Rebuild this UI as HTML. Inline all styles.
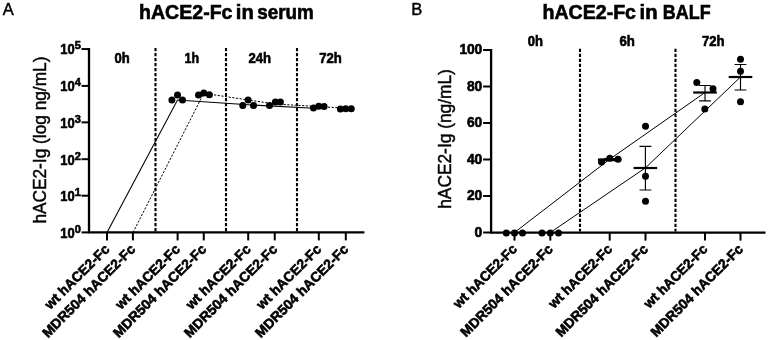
<!DOCTYPE html>
<html><head><meta charset="utf-8"><title>hACE2-Fc</title>
<style>
html,body{margin:0;padding:0;background:#fff;}
svg{display:block;}
text{font-family:"Liberation Sans",Arial,sans-serif;fill:#000;stroke:#000;stroke-width:0.45px;}
.b{font-weight:bold;stroke:#000;stroke-width:0.6px;}
</style></head><body>
<svg width="768" height="340" viewBox="0 0 768 340">
<rect width="768" height="340" fill="#fff"/>

<g id="panelA">
<text x="2.7" y="14.5" font-size="16.5">A</text>
<text class="b" x="139" y="19" font-size="20" textLength="93.5" lengthAdjust="spacingAndGlyphs">hACE2-Fc</text>
<text class="b" x="235.8" y="19" font-size="20" textLength="18" lengthAdjust="spacingAndGlyphs">in</text>
<text class="b" x="257.2" y="19" font-size="20" textLength="56.5" lengthAdjust="spacingAndGlyphs">serum</text>
<text transform="translate(45.6,223.6) rotate(-90)" font-size="19" textLength="167" lengthAdjust="spacingAndGlyphs">hACE2-Ig (log ng/mL)</text>
<path d="M89 48 V233.4 M88 232.4 H364.4" stroke="#000" stroke-width="2.3" fill="none"/>
<path d="M81.5 49.05 H89" stroke="#000" stroke-width="2"/>
<text class="b" x="60.3" y="54.349999999999994" font-size="13.8" textLength="14.4" lengthAdjust="spacingAndGlyphs">10</text>
<text class="b" x="74.8" y="49.349999999999994" font-size="11">5</text>
<path d="M81.5 85.9 H89" stroke="#000" stroke-width="2"/>
<text class="b" x="60.3" y="91.2" font-size="13.8" textLength="14.4" lengthAdjust="spacingAndGlyphs">10</text>
<text class="b" x="74.8" y="86.2" font-size="11">4</text>
<path d="M81.5 122.35 H89" stroke="#000" stroke-width="2"/>
<text class="b" x="60.3" y="127.64999999999999" font-size="13.8" textLength="14.4" lengthAdjust="spacingAndGlyphs">10</text>
<text class="b" x="74.8" y="122.64999999999999" font-size="11">3</text>
<path d="M81.5 159.2 H89" stroke="#000" stroke-width="2"/>
<text class="b" x="60.3" y="164.5" font-size="13.8" textLength="14.4" lengthAdjust="spacingAndGlyphs">10</text>
<text class="b" x="74.8" y="159.5" font-size="11">2</text>
<path d="M81.5 195.7 H89" stroke="#000" stroke-width="2"/>
<text class="b" x="60.3" y="201.0" font-size="13.8" textLength="14.4" lengthAdjust="spacingAndGlyphs">10</text>
<text class="b" x="74.8" y="196.0" font-size="11">1</text>
<path d="M81.5 232.4 H89" stroke="#000" stroke-width="2"/>
<text class="b" x="60.3" y="237.70000000000002" font-size="13.8" textLength="14.4" lengthAdjust="spacingAndGlyphs">10</text>
<text class="b" x="74.8" y="232.70000000000002" font-size="11">0</text>
<path d="M107 232.4 V240.4" stroke="#000" stroke-width="2"/>
<path d="M132.9 232.4 V240.4" stroke="#000" stroke-width="2"/>
<path d="M177.6 232.4 V240.4" stroke="#000" stroke-width="2"/>
<path d="M203.75 232.4 V240.4" stroke="#000" stroke-width="2"/>
<path d="M248.2 232.4 V240.4" stroke="#000" stroke-width="2"/>
<path d="M274.75 232.4 V240.4" stroke="#000" stroke-width="2"/>
<path d="M318.8 232.4 V240.4" stroke="#000" stroke-width="2"/>
<path d="M345.8 232.4 V240.4" stroke="#000" stroke-width="2"/>
<path d="M155.5 48 V231.4" stroke="#000" stroke-width="2.1" stroke-dasharray="3.2 1.8"/>
<path d="M226 48 V231.4" stroke="#000" stroke-width="2.1" stroke-dasharray="3.2 1.8"/>
<path d="M297 48 V231.4" stroke="#000" stroke-width="2.1" stroke-dasharray="3.2 1.8"/>
<text class="b" x="122" y="62.8" font-size="13.8" text-anchor="middle" textLength="15.2" lengthAdjust="spacingAndGlyphs">0h</text>
<text class="b" x="191.8" y="62.8" font-size="13.8" text-anchor="middle" textLength="14.5" lengthAdjust="spacingAndGlyphs">1h</text>
<text class="b" x="259.8" y="62.8" font-size="13.8" text-anchor="middle" textLength="22.6" lengthAdjust="spacingAndGlyphs">24h</text>
<text class="b" x="330.5" y="62.8" font-size="13.8" text-anchor="middle" textLength="22.6" lengthAdjust="spacingAndGlyphs">72h</text>
<path d="M107 232.5 L177.5 100 L248.1 104.8 L318.75 108.5" stroke="#000" stroke-width="1.1" fill="none"/>
<path d="M133 232.5 L203.75 93.3 L275 104 L345.75 108.2" stroke="#000" stroke-width="1" fill="none" stroke-dasharray="2.2 1.5"/>
<circle cx="171.9" cy="100" r="3.5"/><circle cx="177.5" cy="95" r="3.5"/><circle cx="182.5" cy="100" r="3.5"/><circle cx="198.5" cy="95" r="3.5"/><circle cx="203.75" cy="93.1" r="3.5"/><circle cx="209.4" cy="94.75" r="3.5"/><circle cx="242.75" cy="105.4" r="3.5"/><circle cx="248.1" cy="100" r="3.5"/><circle cx="253.5" cy="105.4" r="3.5"/><circle cx="269.5" cy="105.6" r="3.5"/><circle cx="275.4" cy="101.9" r="3.5"/><circle cx="280.4" cy="101.9" r="3.5"/><circle cx="313.5" cy="108.1" r="3.5"/><circle cx="318.75" cy="106.25" r="3.5"/><circle cx="324.1" cy="106.5" r="3.5"/><circle cx="340.4" cy="109" r="3.5"/><circle cx="345.75" cy="108.75" r="3.5"/><circle cx="351.25" cy="108.75" r="3.5"/>
<text class="b" transform="translate(110.4,250) rotate(-45)" text-anchor="end" font-size="13.8" textLength="85" lengthAdjust="spacingAndGlyphs">wt hACE2-Fc</text>
<text class="b" transform="translate(136.3,250) rotate(-45)" text-anchor="end" font-size="13.8" textLength="125" lengthAdjust="spacingAndGlyphs">MDR504 hACE2-Fc</text>
<text class="b" transform="translate(181.0,250) rotate(-45)" text-anchor="end" font-size="13.8" textLength="85" lengthAdjust="spacingAndGlyphs">wt hACE2-Fc</text>
<text class="b" transform="translate(207.15,250) rotate(-45)" text-anchor="end" font-size="13.8" textLength="125" lengthAdjust="spacingAndGlyphs">MDR504 hACE2-Fc</text>
<text class="b" transform="translate(251.6,250) rotate(-45)" text-anchor="end" font-size="13.8" textLength="85" lengthAdjust="spacingAndGlyphs">wt hACE2-Fc</text>
<text class="b" transform="translate(278.15,250) rotate(-45)" text-anchor="end" font-size="13.8" textLength="125" lengthAdjust="spacingAndGlyphs">MDR504 hACE2-Fc</text>
<text class="b" transform="translate(322.2,250) rotate(-45)" text-anchor="end" font-size="13.8" textLength="85" lengthAdjust="spacingAndGlyphs">wt hACE2-Fc</text>
<text class="b" transform="translate(349.2,250) rotate(-45)" text-anchor="end" font-size="13.8" textLength="125" lengthAdjust="spacingAndGlyphs">MDR504 hACE2-Fc</text>
</g>
<g id="panelB">
<text x="411.2" y="14.5" font-size="16.5">B</text>
<text class="b" x="542.5" y="18.8" font-size="20" textLength="93.5" lengthAdjust="spacingAndGlyphs">hACE2-Fc</text>
<text class="b" x="639.6" y="18.8" font-size="20" textLength="18" lengthAdjust="spacingAndGlyphs">in</text>
<text class="b" x="662.8" y="18.8" font-size="20" textLength="47.8" lengthAdjust="spacingAndGlyphs">BALF</text>
<text transform="translate(450.5,208.8) rotate(-90)" font-size="19" textLength="139.7" lengthAdjust="spacingAndGlyphs">hACE2-Ig (ng/mL)</text>
<path d="M491.1 49 V233.6 M490.1 232.6 H765.5" stroke="#000" stroke-width="2.3" fill="none"/>
<path d="M483.1 50 H491.1" stroke="#000" stroke-width="2"/>
<text class="b" x="482" y="54.4" font-size="13.8" text-anchor="end" letter-spacing="-0.15">100</text>
<path d="M483.1 86.5 H491.1" stroke="#000" stroke-width="2"/>
<text class="b" x="482" y="90.9" font-size="13.8" text-anchor="end" letter-spacing="-0.15">80</text>
<path d="M483.1 123 H491.1" stroke="#000" stroke-width="2"/>
<text class="b" x="482" y="127.4" font-size="13.8" text-anchor="end" letter-spacing="-0.15">60</text>
<path d="M483.1 159.5 H491.1" stroke="#000" stroke-width="2"/>
<text class="b" x="482" y="163.9" font-size="13.8" text-anchor="end" letter-spacing="-0.15">40</text>
<path d="M483.1 196 H491.1" stroke="#000" stroke-width="2"/>
<text class="b" x="482" y="200.4" font-size="13.8" text-anchor="end" letter-spacing="-0.15">20</text>
<path d="M483.1 232.5 H491.1" stroke="#000" stroke-width="2"/>
<text class="b" x="482" y="236.9" font-size="13.8" text-anchor="end" letter-spacing="-0.15">0</text>
<path d="M514.5 232.6 V240.6" stroke="#000" stroke-width="2"/>
<path d="M550.3 232.6 V240.6" stroke="#000" stroke-width="2"/>
<path d="M609.7 232.6 V240.6" stroke="#000" stroke-width="2"/>
<path d="M645.5 232.6 V240.6" stroke="#000" stroke-width="2"/>
<path d="M705 232.6 V240.6" stroke="#000" stroke-width="2"/>
<path d="M740.5 232.6 V240.6" stroke="#000" stroke-width="2"/>
<path d="M580 48.7 V231.6" stroke="#000" stroke-width="2.1" stroke-dasharray="3.2 1.8"/>
<path d="M675.5 48.7 V231.6" stroke="#000" stroke-width="2.1" stroke-dasharray="3.2 1.8"/>
<text class="b" x="535.3" y="45.8" font-size="13.8" text-anchor="middle" textLength="15.2" lengthAdjust="spacingAndGlyphs">0h</text>
<text class="b" x="627.1" y="45.8" font-size="13.8" text-anchor="middle" textLength="15.4" lengthAdjust="spacingAndGlyphs">6h</text>
<text class="b" x="713.2" y="45.8" font-size="13.8" text-anchor="middle" textLength="22.6" lengthAdjust="spacingAndGlyphs">72h</text>
<path d="M514.5 232.5 L609.7 159.2 L705 92.5" stroke="#000" stroke-width="1" fill="none"/>
<path d="M550.3 232.5 L645.5 167.8 L740.5 77" stroke="#000" stroke-width="1" fill="none"/>
<path d="M597.9000000000001 159.6 H621.5" stroke="#000" stroke-width="2.2"/><path d="M609.7 158.6 V160.6 M603.8000000000001 158.6 H615.6 M603.8000000000001 160.6 H615.6" stroke="#000" stroke-width="1.15" fill="none"/>
<path d="M633.6 168 H657.1999999999999" stroke="#000" stroke-width="2.2"/><path d="M645.4 146.3 V190 M639.5 146.3 H651.3 M639.5 190 H651.3" stroke="#000" stroke-width="1.15" fill="none"/>
<path d="M693.2 92.5 H716.8" stroke="#000" stroke-width="2.2"/><path d="M705 85.5 V100.8 M699.1 85.5 H710.9 M699.1 100.8 H710.9" stroke="#000" stroke-width="1.15" fill="none"/>
<path d="M728.7 77 H752.3" stroke="#000" stroke-width="2.2"/><path d="M740.5 64.5 V90 M734.6 64.5 H746.4 M734.6 90 H746.4" stroke="#000" stroke-width="1.15" fill="none"/>
<circle cx="506.3" cy="232.9" r="3.5"/><circle cx="514.5" cy="232.9" r="3.5"/><circle cx="522.5" cy="232.9" r="3.5"/><circle cx="542" cy="232.9" r="3.5"/><circle cx="550.3" cy="232.9" r="3.5"/><circle cx="558.5" cy="232.9" r="3.5"/><circle cx="601.5" cy="162" r="3.5"/><circle cx="609.8" cy="158.3" r="3.5"/><circle cx="618" cy="159.3" r="3.5"/><circle cx="645.5" cy="126.3" r="3.5"/><circle cx="645.5" cy="176.3" r="3.5"/><circle cx="645.5" cy="201.3" r="3.5"/><circle cx="696.8" cy="82.5" r="3.5"/><circle cx="713" cy="88.8" r="3.5"/><circle cx="704.8" cy="109" r="3.5"/><circle cx="740.5" cy="59.3" r="3.5"/><circle cx="740.5" cy="71.3" r="3.5"/><circle cx="740.5" cy="101.8" r="3.5"/>
<text class="b" transform="translate(517.9,250) rotate(-45)" text-anchor="end" font-size="13.8" textLength="83.5" lengthAdjust="spacingAndGlyphs">wt hACE2-Fc</text>
<text class="b" transform="translate(553.6999999999999,250) rotate(-45)" text-anchor="end" font-size="13.8" textLength="124" lengthAdjust="spacingAndGlyphs">MDR504 hACE2-Fc</text>
<text class="b" transform="translate(613.1,250) rotate(-45)" text-anchor="end" font-size="13.8" textLength="83.5" lengthAdjust="spacingAndGlyphs">wt hACE2-Fc</text>
<text class="b" transform="translate(648.9,250) rotate(-45)" text-anchor="end" font-size="13.8" textLength="124" lengthAdjust="spacingAndGlyphs">MDR504 hACE2-Fc</text>
<text class="b" transform="translate(708.4,250) rotate(-45)" text-anchor="end" font-size="13.8" textLength="83.5" lengthAdjust="spacingAndGlyphs">wt hACE2-Fc</text>
<text class="b" transform="translate(743.9,250) rotate(-45)" text-anchor="end" font-size="13.8" textLength="124" lengthAdjust="spacingAndGlyphs">MDR504 hACE2-Fc</text>
</g>
</svg></body></html>
